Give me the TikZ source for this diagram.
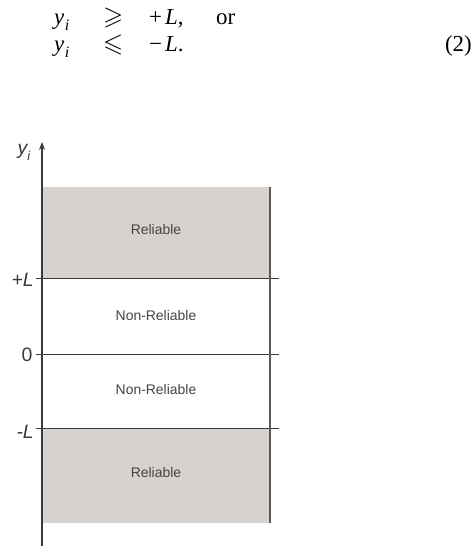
\documentclass[tikz,border=0pt]{standalone}
\usepackage{amssymb}
\usepackage{fontspec}
\setmainfont{Liberation Serif}
\newfontfamily\hv{Liberation Sans}
\usetikzlibrary{arrows.meta}
\definecolor{relfill}{HTML}{D8D2CF}
\definecolor{axgray}{HTML}{3A3A3A}
\definecolor{txtgray}{HTML}{444444}
\definecolor{edgegray}{HTML}{5A5A5A}
\newcommand{\yisub}{\textit{y}\kern0.02em\raisebox{-0.22em}{\fontsize{16}{17}\selectfont\textit{i}}}
\begin{document}
\begin{tikzpicture}[x=1bp,y=-1bp,
  eq/.style={anchor=base west, inner sep=0pt, text height=14bp, text depth=4bp, font=\fontsize{23}{27}\selectfont},
  rel/.style={anchor=base west, inner sep=0pt, text height=14bp, text depth=4bp, font=\fontsize{26}{30}\selectfont},
  ax/.style={font=\hv\fontsize{19.5}{22}\selectfont, text=axgray, inner sep=0pt},
  region/.style={font=\hv\fontsize{14}{16}\selectfont, text=txtgray, inner sep=0pt},
  band/.style={fill=relfill, draw=none},
  level/.style={draw=axgray, line width=0.9bp},
  edge/.style={draw=edgegray, line width=1.5bp},
  axis/.style={draw=axgray, line width=1.1bp, -{Stealth[length=8bp,width=6bp]}},
]
\useasboundingbox (0,0) rectangle (473,547);

% equation
\node[eq] (y1) at (54,25) {\yisub};
\node[rel] (ge) at (103,25) {$\geqslant$};
\node[eq] (pL) at (149,25) {+\kern3bp\textit{L},};
\node[eq] (or) at (216,25) {or};
\node[eq] (y2) at (54,52) {\yisub};
\node[rel] (le) at (103,52) {$\leqslant$};
\node[eq] (mL) at (149,52) {−\kern3bp\textit{L}.};
\node[eq, anchor=base east] (num) at (472,52) {(2)};

% bands
\fill[band] (42,187) rectangle (270,278);
\fill[band] (42,428) rectangle (270,523);

% level lines
\coordinate (pLa) at (36,278); \coordinate (pLb) at (279,278);
\coordinate (z0a) at (36,354); \coordinate (z0b) at (279,354);
\coordinate (mLa) at (36,428); \coordinate (mLb) at (279,428);
\draw[level] (pLa) -- (pLb);
\draw[level] (z0a) -- (z0b);
\draw[level] (mLa) -- (mLb);

% right edge
\coordinate (rt) at (270,187); \coordinate (rb) at (270,523);
\draw[edge] (rt) -- (rb);

% axis
\coordinate (axb) at (42,546); \coordinate (axt) at (42,142);
\draw[axis] (axb) -- (axt);

% axis labels
\node[ax] (ylab) at (24,152) {\itshape y\raisebox{-0.3em}{\fontsize{13}{14}\selectfont i}};
\node[ax, anchor=east] (plab) at (34,280) {\itshape +L};
\node[ax] (zlab) at (27,355) {0};
\node[ax, anchor=east] (mlab) at (34,432) {\itshape -L};

% region labels
\node[region] (r1) at (156,230) {Reliable};
\node[region] (n1) at (156,316) {Non-Reliable};
\node[region] (n2) at (156,390) {Non-Reliable};
\node[region] (r2) at (156,473) {Reliable};
\end{tikzpicture}
\end{document}
